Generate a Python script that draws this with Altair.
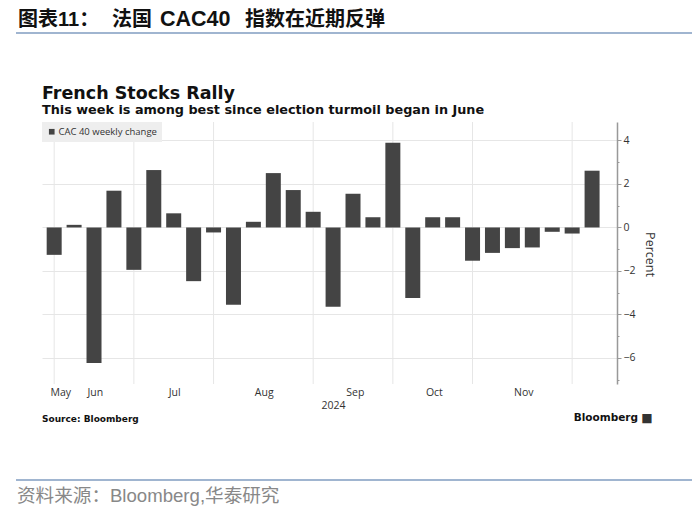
import altair as alt
import pandas as pd

# ---- data ----
weeks = ["2024-05-31", "2024-06-07", "2024-06-14", "2024-06-21", "2024-06-28",
         "2024-07-05", "2024-07-12", "2024-07-19", "2024-07-26", "2024-08-02",
         "2024-08-09", "2024-08-16", "2024-08-23", "2024-08-30", "2024-09-06",
         "2024-09-13", "2024-09-20", "2024-09-27", "2024-10-04", "2024-10-11",
         "2024-10-18", "2024-10-25", "2024-11-01", "2024-11-08", "2024-11-15",
         "2024-11-22", "2024-11-29", "2024-12-06"]
changes = [-1.26, 0.12, -6.23, 1.69, -1.95, 2.64, 0.65, -2.47, -0.23, -3.55,
           0.26, 2.50, 1.72, 0.72, -3.65, 1.55, 0.47, 3.90, -3.24, 0.47,
           0.47, -1.53, -1.17, -0.95, -0.92, -0.20, -0.28, 2.61]
series_name = "CAC 40 weekly change"

month_names = ["May", "Jun", "Jul", "Aug", "Sep", "Oct", "Nov"]
month_label_pos = [0.31, 2.04, 6.02, 10.52, 15.09, 19.06, 23.55]
month_grid_week = [0, 4, 8, 13, 17, 21, 26]
y_ticks = list(range(-7, 5))

header_parts = ["图表11：", "法国", "CAC40", "指数在近期反弹"]
title = "French Stocks Rally"
subtitle = "This week is among best since election turmoil began in June"
source = "Source: Bloomberg"
brand = "Bloomberg"
footer = "资料来源：Bloomberg,华泰研究"

df = pd.DataFrame({"week": weeks, "idx": list(range(len(weeks))),
                   "change": changes, "series": series_name})
grid_df = pd.DataFrame({"idx": month_grid_week})

W, H = 575, 262
xscale = alt.Scale(domain=[-0.36, 28.0], nice=False, zero=False)
yscale = alt.Scale(domain=[-7.2, 4.85], nice=False, zero=False)

label_expr = f"{month_names}[indexof({month_label_pos}, datum.value)]"

x_axis = alt.Axis(values=month_label_pos, labelExpr=label_expr,
                  domain=False, ticks=False, grid=False,
                  labelPadding=3, labelFontSize=10.5, labelColor="#333",
                  labelFont="Open Sans", title="2024",
                  titleFont="Open Sans", titleFontSize=10.5,
                  titleFontWeight="normal", titleColor="#333",
                  titleX=291, titleY=21.5, titleBaseline="middle")

vgrid = alt.Chart(grid_df).mark_rule(color="#e6e6e6", strokeWidth=1).encode(
    x=alt.X("idx:Q", scale=xscale, axis=x_axis)
)

bars = alt.Chart(df).mark_bar(size=15).encode(
    x=alt.X("idx:Q", scale=xscale, axis=x_axis),
    y=alt.Y("change:Q", scale=yscale,
            axis=alt.Axis(orient="right", values=y_ticks, format="d",
                          labelExpr="datum.value % 2 == 0 ? datum.label : ''",
                          domainColor="#999999", domainWidth=1.5,
                          tickColor="#999999",
                          tickSize={"condition": {"test": "datum.value % 2 == 0", "value": 4}, "value": 2},
                          grid=True, gridColor="#e6e6e6",
                          gridOpacity={"condition": {"test": "datum.value % 2 == 0", "value": 1}, "value": 0},
                          labelFontSize=10.5, labelColor="#333", labelFont="Open Sans",
                          labelPadding=2,
                          title="Percent", titleAngle=90, titleFont="Open Sans",
                          titleFontSize=12.5, titleFontWeight="normal", titleColor="#333",
                          titleX=32, titleY=132, titleAlign="center",
                          titleBaseline="middle")),
    color=alt.Color("series:N", scale=alt.Scale(range=["#444444"]),
                    legend=alt.Legend(title=None, orient="top-left", offset=0,
                                      fillColor="#eeeeee", padding=5,
                                      symbolType="square", symbolSize=32,
                                      symbolStrokeWidth=0, labelFontSize=9.5,
                                      labelFont="Open Sans", labelColor="#333",
                                      labelOffset=2)),
)


def label(text, x, y, size, weight="normal", color="#000", font="DejaVu Sans",
          align="left", baseline="middle"):
    return alt.Chart(pd.DataFrame({"t": [text]})).mark_text(
        align=align, baseline=baseline, fontSize=size, fontWeight=weight,
        color=color, font=font
    ).encode(x=alt.value(x), y=alt.value(y), text="t:N")


def hline(x1, x2, y, color):
    return alt.Chart(pd.DataFrame({"t": [0]})).mark_rule(
        color=color, strokeWidth=1.5
    ).encode(x=alt.value(x1), x2=alt.value(x2), y=alt.value(y))


cjk = "Liberation Sans, Noto Sans CJK SC"
texts = [
    label(header_parts[0], -24, -102, 20, "bold", "#111", cjk),
    label(header_parts[1], 70, -102, 20, "bold", "#111", cjk),
    label(header_parts[2], 118, -102, 21.5, "bold", "#111", cjk),
    label(header_parts[3], 203, -102, 20, "bold", "#111", cjk),
    hline(-26, 650, -89, "#819dc0"),
    label(title, 0, -23, 17.5, "bold", "#111", "DejaVu Sans", baseline="alphabetic"),
    label(subtitle, 0, -8, 12.8, "bold", "#111", "DejaVu Sans", baseline="alphabetic"),
    label(source, 0, 297, 9, "bold", "#111", "DejaVu Sans"),
    label(brand, 596, 296, 10.5, "bold", "#111", "DejaVu Sans", align="right"),
    label("■", 605, 296, 12, "bold", "#333", "DejaVu Sans", align="center"),
    hline(-26, 650, 358, "#819dc0"),
    label(footer, -25, 374, 18.6, "normal", "#888", cjk),
]

chart = alt.layer(vgrid, bars, *texts).properties(
    width=W, height=H,
    padding={"left": 34, "top": 114, "right": 75, "bottom": 122},
    autosize=alt.AutoSizeParams(type="none"),
    background="white",
).configure_view(stroke=None)

chart.save("out.html", embed_options={"renderer": "svg", "actions": False})
